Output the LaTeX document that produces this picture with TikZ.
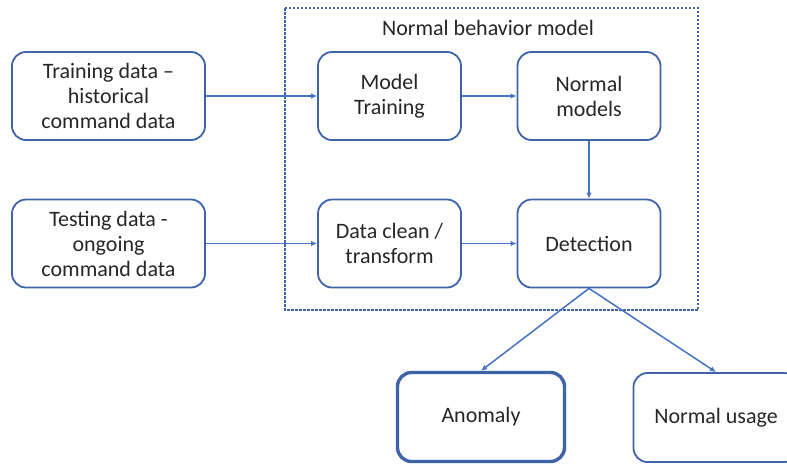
\documentclass[tikz,border=0pt]{standalone}
\usepackage{fontspec}
\setmainfont{Carlito}
\usetikzlibrary{arrows.meta}
\definecolor{boxline}{HTML}{3E63A8}
\definecolor{arrowline}{HTML}{4472C4}
\definecolor{txt}{HTML}{262626}
\tikzset{
  stagebox/.style={draw=boxline, line width=1.8pt, rounded corners=14pt,
    minimum width=#1, minimum height=88pt, align=center, text=txt,
    font=\fontsize{22}{25}\selectfont, inner sep=2pt},
  stagebox/.default=143pt,
  flow/.style={draw=arrowline, line width=1.5pt, -{Latex[length=6pt,width=5.5pt]}},
}
\begin{document}
\begin{tikzpicture}[x=1pt,y=-1pt]
  \useasboundingbox (0,0) rectangle (787,464);
  \clip (0,0) rectangle (787,464);
  % container of the model stages
  \draw[boxline, dash pattern=on 2.5pt off 1.5pt, line width=1.2pt] (285,8) rectangle (698,310);
  \node[text=txt, font=\fontsize{22}{25}\selectfont] (title) at (488,28) {Normal behavior model};
  % input data
  \node[stagebox=193pt] (train) at (108.5,96) {Training data --\\historical\\command data};
  \node[stagebox=193pt] (test) at (108.5,243.5) {Testing data -\\ongoing\\command data};
  % model stages
  \node[stagebox] (fit) at (389.5,96) {Model\\Training};
  \node[stagebox] (models) at (589,96) {Normal\\models};
  \node[stagebox] (clean) at (389.5,243.5) {Data clean /\\transform};
  \node[stagebox] (detect) at (589,243.5) {Detection};
  % outcomes
  \node[stagebox=167pt, minimum height=89pt, line width=3.4pt] (anom) at (481,417) {Anomaly};
  \node[stagebox=165pt, minimum height=89pt] (usage) at (716,417.5) {Normal usage};
  % connectors
  \draw[flow] (train) -- (fit);
  \draw[flow] (fit) -- (models);
  \draw[flow] (test) -- (clean);
  \draw[flow] (clean) -- (detect);
  \draw[flow] (models) -- (detect);
  \draw[flow] (detect.south) -- (anom.north);
  \draw[flow] (detect.south) -- (usage.north);
\end{tikzpicture}
\end{document}
